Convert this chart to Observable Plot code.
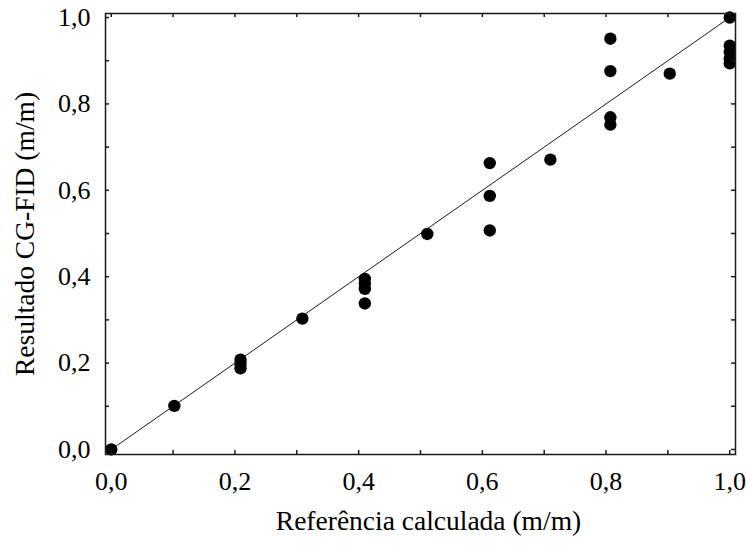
<!DOCTYPE html>
<html><head><meta charset="utf-8">
<script src="https://cdn.jsdelivr.net/npm/d3@7"></script>
<script src="https://cdn.jsdelivr.net/npm/@observablehq/plot@0.6"></script>
<style>body{margin:0;background:#fff}</style>
</head><body><div id="chart"></div>
<script>
const refX = [0, 0.102, 0.209, 0.209, 0.209, 0.309, 0.41, 0.41, 0.41, 0.41, 0.511, 0.612, 0.612, 0.612, 0.71, 0.807, 0.807, 0.807, 0.807, 0.903, 1.0, 1.0, 1.0, 1.0, 1.0];
const resY = [0, 0.101, 0.208, 0.198, 0.188, 0.303, 0.395, 0.384, 0.372, 0.338, 0.499, 0.663, 0.587, 0.507, 0.671, 0.951, 0.876, 0.769, 0.752, 0.87, 1.0, 0.935, 0.92, 0.905, 0.894];
const fitX = [0, 1];
const fitY = [0, 1];
const tickValues = [0, 0.1, 0.2, 0.3, 0.4, 0.5, 0.6, 0.7, 0.8, 0.9, 1.0];
const labelValues = [0, 0.2, 0.4, 0.6, 0.8, 1.0];
const xTitle = "Referência calculada (m/m)";
const yTitle = "Resultado CG-FID (m/m)";

const fmt = d => d.toFixed(1).replace(".", ",");
const points = refX.map((x, i) => ({x, y: resY[i]}));
const fit = fitX.map((x, i) => ({x, y: fitY[i]}));
const W = 747, H = 546, ml = 105, mr = 12, mt = 13, mb = 92;
const fh = H - mt - mb, fw = W - ml - mr, tl = 4;
const ink = "#1a1a1a";

const chart = Plot.plot({
  width: W, height: H,
  marginLeft: ml, marginRight: mr, marginTop: mt, marginBottom: mb,
  style: {fontFamily: "Liberation Serif", fontSize: "26px", color: "#000", background: "#fff"},
  x: {domain: [-0.0093, 1.0093]},
  y: {domain: [-0.0116, 1.0093]},
  marks: [
    Plot.line(fit, {x: "x", y: "y", stroke: ink, strokeWidth: 1}),
    Plot.dot(points, {x: "x", y: "y", r: 6.2, fill: "#000"}),
    Plot.tickX(tickValues, {x: d => d, insetTop: fh - tl, stroke: ink, strokeWidth: 1.5}),
    Plot.tickX(tickValues, {x: d => d, insetBottom: fh - tl, stroke: ink, strokeWidth: 1.5}),
    Plot.tickY(tickValues, {y: d => d, insetRight: fw - tl, stroke: ink, strokeWidth: 1.5}),
    Plot.tickY(tickValues, {y: d => d, insetLeft: fw - tl, stroke: ink, strokeWidth: 1.5}),
    Plot.frame({stroke: ink, strokeWidth: 1.5}),
    Plot.axisX(labelValues, {tickFormat: fmt, tickSize: 0, tickPadding: 17, fontSize: 26, fill: "#000", label: null}),
    Plot.axisY(labelValues, {tickFormat: fmt, tickSize: 0, tickPadding: 15, fontSize: 26, fill: "#000", label: null}),
    Plot.text([xTitle], {text: d => d, frameAnchor: "bottom", lineAnchor: "middle", textAnchor: "middle", dx: 8, dy: 67, fontSize: 27.5, fill: "#000"}),
    Plot.text([yTitle], {text: d => d, frameAnchor: "left", lineAnchor: "middle", textAnchor: "middle", rotate: -90, dx: -80, dy: 0, fontSize: 27.5, fill: "#000"})
  ]
});
document.getElementById("chart").appendChild(chart);
</script>
</body></html>
